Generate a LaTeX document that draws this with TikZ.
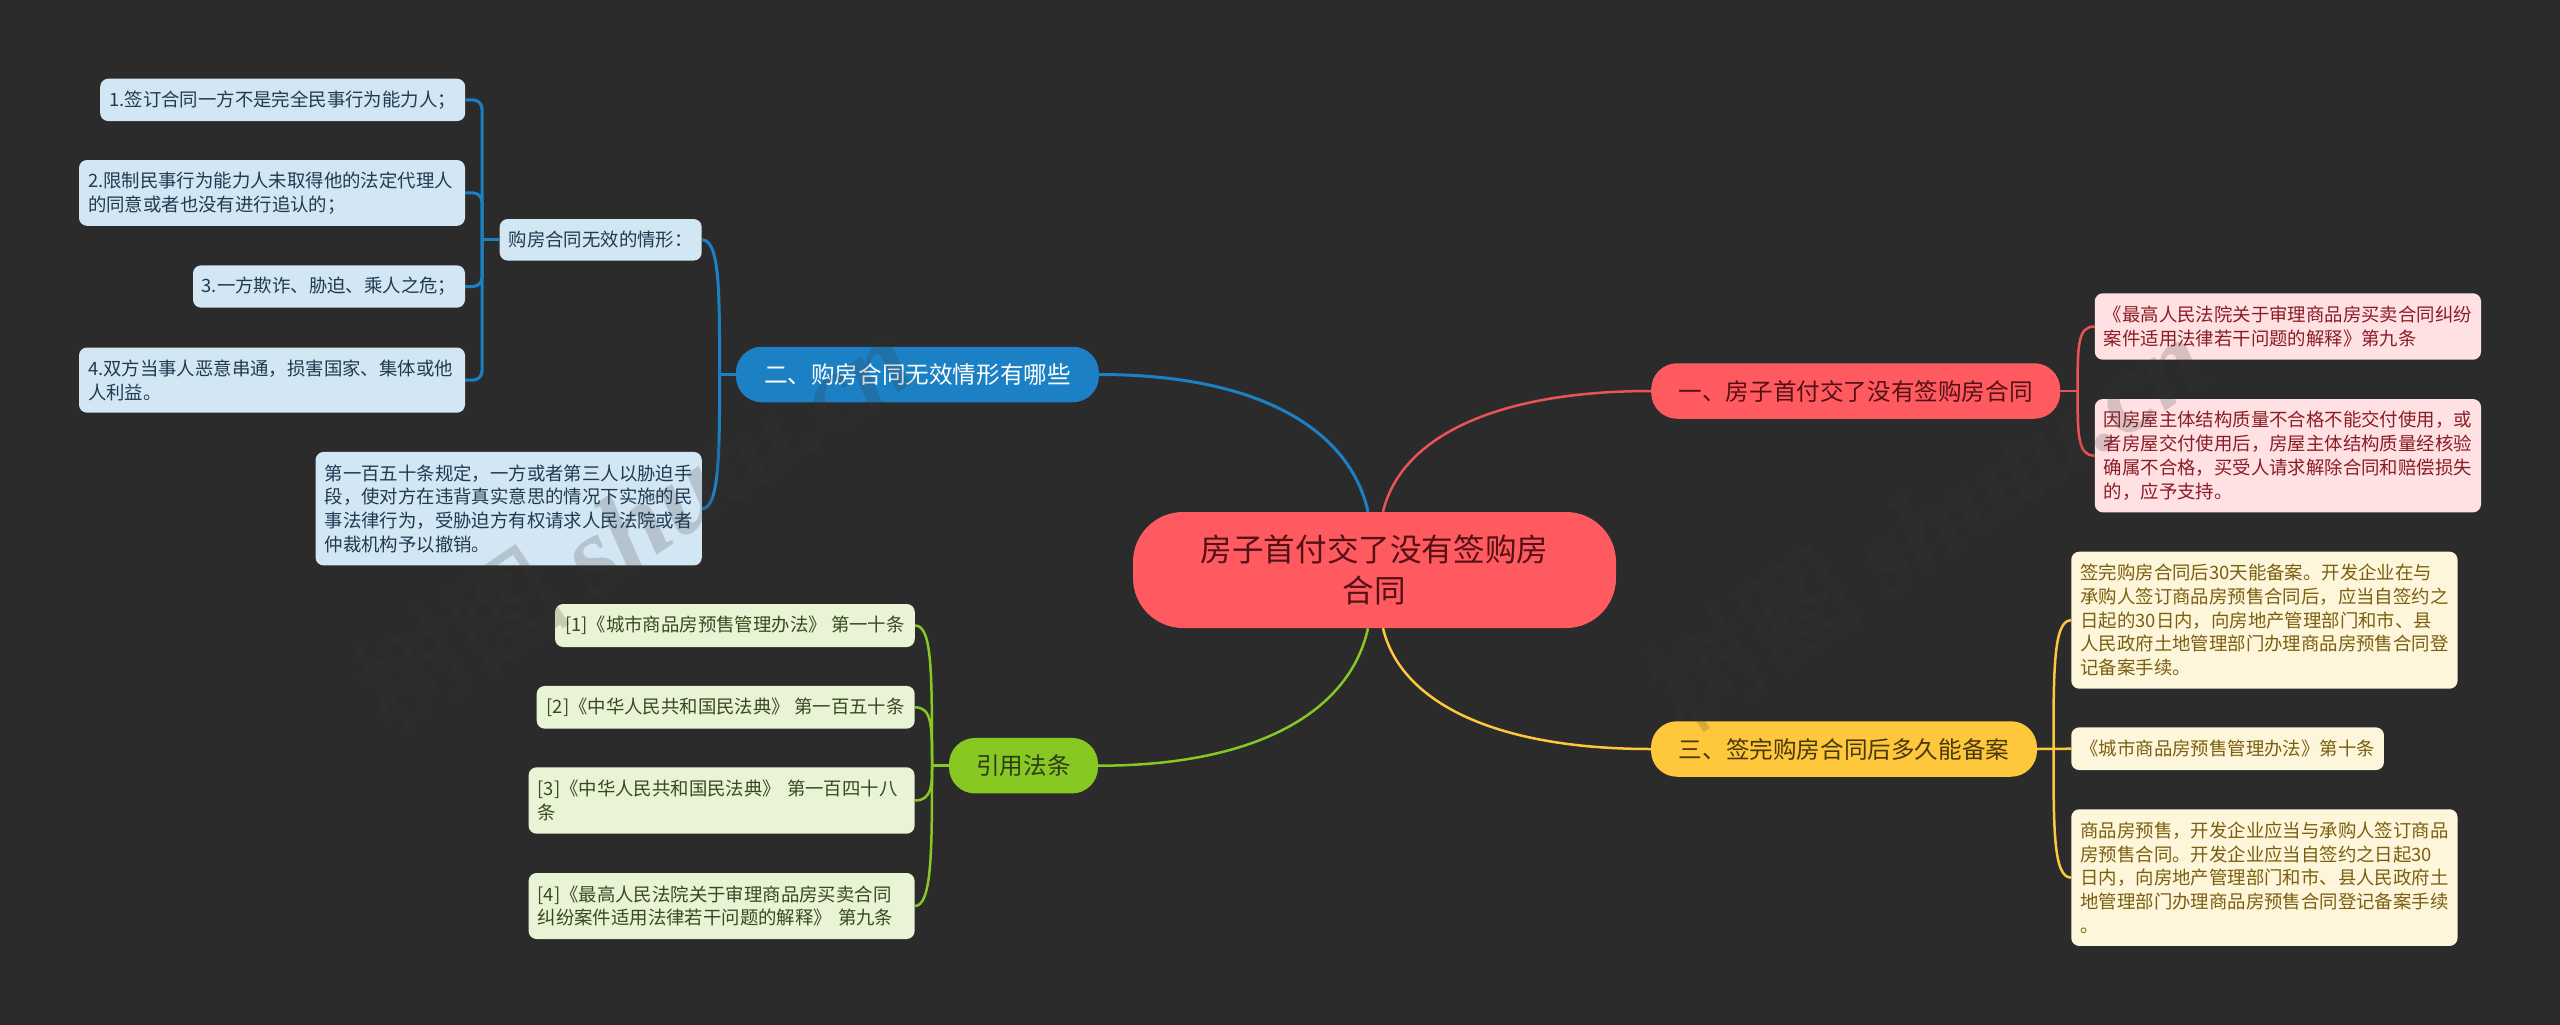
\documentclass[tikz,border=0pt]{standalone}
\usepackage{fontspec}
\setmainfont{Noto Sans CJK SC}
\newfontfamily\markfont[ItalicFont={Liberation Serif Bold Italic}]{Liberation Serif}
\usepackage{xcolor}
\definecolor{bgdark}{HTML}{2B2B2B}
\definecolor{rootred}{HTML}{FF5A60}
\definecolor{headblue}{HTML}{1B80C4}
\definecolor{headgreen}{HTML}{87C822}
\definecolor{headyellow}{HTML}{FFC83C}
\definecolor{leafblue}{HTML}{D3E6F3}
\definecolor{leafgreen}{HTML}{E9F3D5}
\definecolor{leafyellow}{HTML}{FEF6DA}
\definecolor{leafred}{HTML}{FFE1E3}
\definecolor{inkblue}{HTML}{1F3B52}
\definecolor{inkgreen}{HTML}{3A4A20}
\definecolor{inkyellow}{HTML}{7A5F10}
\definecolor{inkred}{HTML}{8A1C24}
\definecolor{markgray}{HTML}{383838}
\tikzset{
    leafbox/.style={rounded corners=8pt, align=left, inner sep=0pt,
        font=\fontsize{18.4}{23.7}\selectfont},
    bluebox/.style={leafbox, fill=leafblue, text=inkblue},
    greenbox/.style={leafbox, fill=leafgreen, text=inkgreen},
    yellowbox/.style={leafbox, fill=leafyellow, text=inkyellow},
    redbox/.style={leafbox, fill=leafred, text=inkred},
    headbox/.style={rounded corners=26pt, inner sep=0pt,
        font=\fontsize{23.6}{30}\selectfont},
    bluelink/.style={draw=headblue, line width=3pt},
    greenlink/.style={draw=headgreen, line width=2.5pt},
    yellowlink/.style={draw=headyellow, line width=2.5pt},
    redlink/.style={draw=rootred!92!black, line width=2.5pt},
    markstyle/.style={text=markgray, opacity=.2, rotate=34, inner sep=0pt,
        font=\fontsize{110}{110}\selectfont},
}
\begin{document}
\begin{tikzpicture}[x=1pt,y=-1pt]
    \useasboundingbox (0,0) rectangle (2560,1025);
    \fill[bgdark] (0,0) rectangle (2560,1025);

    % centre and the four heads
    \node[fill=rootred, text=inkred!60!black, rounded corners=50pt, align=center, inner sep=0pt,
        minimum width=483pt, minimum height=116pt, font=\fontsize{31.6}{41}\selectfont]
        (root) at (1374.5,570) {房子首付交了没有签购房\\合同};
    \node[headbox, fill=rootred, text=inkred!60!black, minimum width=409pt, minimum height=55.5pt]
        (headone) at (1855.7,391) {一、房子首付交了没有签购房合同};
    \node[headbox, fill=headblue, text=white, minimum width=363pt, minimum height=55.5pt]
        (headtwo) at (917.4,374.5) {二、购房合同无效情形有哪些};
    \node[headbox, fill=headyellow, text=inkyellow!60!black, minimum width=386pt, minimum height=55.5pt]
        (headthree) at (1844,749) {三、签完购房合同后多久能备案};
    \node[headbox, fill=headgreen, text=inkgreen!80!black, minimum width=149pt, minimum height=55.5pt]
        (headlaw) at (1023.5,765.7) {引用法条};

    % blue side
    \node[bluebox, minimum width=202pt, minimum height=41.5pt] (bluemid) at (600.7,239.8) {购房合同无效的情形：};
    \node[bluebox, minimum width=365pt, minimum height=42.3pt] (bluea) at (282.7,99.9) {1.签订合同一方不是完全民事行为能力人；};
    \node[bluebox, minimum width=386pt, minimum height=65.8pt, text width=368pt] (blueb) at (272,192.9) {2.限制民事行为能力人未取得他的法定代理人\\的同意或者也没有进行追认的；};
    \node[bluebox, minimum width=272pt, minimum height=42.3pt] (bluec) at (329,286.5) {3.一方欺诈、胁迫、乘人之危；};
    \node[bluebox, minimum width=386pt, minimum height=65.2pt, text width=368pt] (blued) at (272,380.1) {4.双方当事人恶意串通，损害国家、集体或他\\人利益。};
    \node[bluebox, minimum width=386.2pt, minimum height=113.5pt, text width=368pt] (bluelong) at (508.7,508.7) {第一百五十条规定，一方或者第三人以胁迫手\\段，使对方在违背真实意思的情况下实施的民\\事法律行为，受胁迫方有权请求人民法院或者\\仲裁机构予以撤销。};
    \coordinate (bluebus) at (482,239.8);
    \coordinate (bluebustop) at (719.6,374.5);
    \foreach \leaf in {bluea,blueb,bluec,blued}
        \draw[bluelink, rounded corners=9pt] (\leaf.east) -| (bluebus);
    \draw[bluelink] (bluebus) -- (bluemid.west);
    \draw[bluelink] (bluemid.east) .. controls (719.6,239.8) and (719.6,290) .. (bluebustop);
    \draw[bluelink] (bluelong.east) .. controls (719.6,508.7) and (719.6,450) .. (bluebustop);
    \draw[bluelink] (bluebustop) -- (headtwo.west);

    % green side
    \node[greenbox, minimum width=359.7pt, minimum height=43pt] (greena) at (734.9,625.5) {[1]《城市商品房预售管理办法》 第一十条};
    \node[greenbox, minimum width=378pt, minimum height=42.7pt] (greenb) at (725.7,707.3) {[2]《中华人民共和国民法典》 第一百五十条};
    \node[greenbox, minimum width=386pt, minimum height=66.4pt, text width=368pt] (greenc) at (721.6,800.5) {[3]《中华人民共和国民法典》 第一百四十八\\条};
    \node[greenbox, minimum width=386pt, minimum height=66pt, text width=368pt] (greend) at (721.6,906) {[4]《最高人民法院关于审理商品房买卖合同\\纠纷案件适用法律若干问题的解释》 第九条};
    \coordinate (greenbus) at (932,765.7);
    \draw[greenlink] (greena.east) .. controls (932,625.5) and (932,670) .. (greenbus);
    \draw[greenlink] (greenb.east) .. controls (932,707.3) and (932,725) .. (greenbus);
    \draw[greenlink] (greenc.east) .. controls (932,800.5) and (932,785) .. (greenbus);
    \draw[greenlink] (greend.east) .. controls (932,906) and (932,850) .. (greenbus);
    \draw[greenlink] (greenbus) -- (headlaw.west);

    % red side
    \node[redbox, minimum width=386.2pt, minimum height=66.4pt, text width=368pt] (reda) at (2287.9,326.5) {《最高人民法院关于审理商品房买卖合同纠纷\\案件适用法律若干问题的解释》第九条};
    \node[redbox, minimum width=386.2pt, minimum height=113.3pt, text width=368pt] (redb) at (2287.9,455.7) {因房屋主体结构质量不合格不能交付使用，或\\者房屋交付使用后，房屋主体结构质量经核验\\确属不合格，买受人请求解除合同和赔偿损失\\的，应予支持。};
    \coordinate (redbus) at (2077.6,391);
    \draw[redlink] (reda.west) .. controls (2077.6,326.5) and (2077.6,345) .. (redbus);
    \draw[redlink] (redb.west) .. controls (2077.6,455.7) and (2077.6,435) .. (redbus);
    \draw[redlink] (redbus) -- (headone.east);

    % yellow side
    \node[yellowbox, minimum width=386.3pt, minimum height=137pt, text width=368pt] (yellowa) at (2264.4,620.2) {签完购房合同后30天能备案。开发企业在与\\承购人签订商品房预售合同后，应当自签约之\\日起的30日内，向房地产管理部门和市、县\\人民政府土地管理部门办理商品房预售合同登\\记备案手续。};
    \node[yellowbox, minimum width=312.7pt, minimum height=42.7pt] (yellowb) at (2227.6,748.7) {《城市商品房预售管理办法》第十条};
    \node[yellowbox, minimum width=386.3pt, minimum height=136.7pt, text width=368pt] (yellowc) at (2264.4,877.6) {商品房预售，开发企业应当与承购人签订商品\\房预售合同。开发企业应当自签约之日起30\\日内，向房地产管理部门和市、县人民政府土\\地管理部门办理商品房预售合同登记备案手续\\。};
    \coordinate (yellowbus) at (2053.5,749);
    \draw[yellowlink] (yellowa.west) .. controls (2053.5,620.2) and (2053.5,670) .. (yellowbus);
    \draw[yellowlink] (yellowc.west) .. controls (2053.5,877.6) and (2053.5,830) .. (yellowbus);
    \draw[yellowlink] (headthree.east) -- (yellowb.west);

    % from the centre to the heads
    \draw[bluelink] (headtwo.east) .. controls (1260,374.5) and (1350,430) .. ([xshift=-6.5pt]root.north);
    \draw[redlink] (headone.west) .. controls (1490,391) and (1400,440) .. ([xshift=8.5pt]root.north);
    \draw[greenlink] (headlaw.east) .. controls (1260,765.7) and (1350,710) .. ([xshift=-6.5pt]root.south);
    \draw[yellowlink] (headthree.west) .. controls (1490,749) and (1400,700) .. ([xshift=8.5pt]root.south);

    % watermarks over everything
    \node[markstyle] (marka) at (632,522) {树图 {\markfont\itshape shutu.cn}};
    \node[markstyle] (markb) at (1926,522) {树图 {\markfont\itshape shutu.cn}};
\end{tikzpicture}
\end{document}
